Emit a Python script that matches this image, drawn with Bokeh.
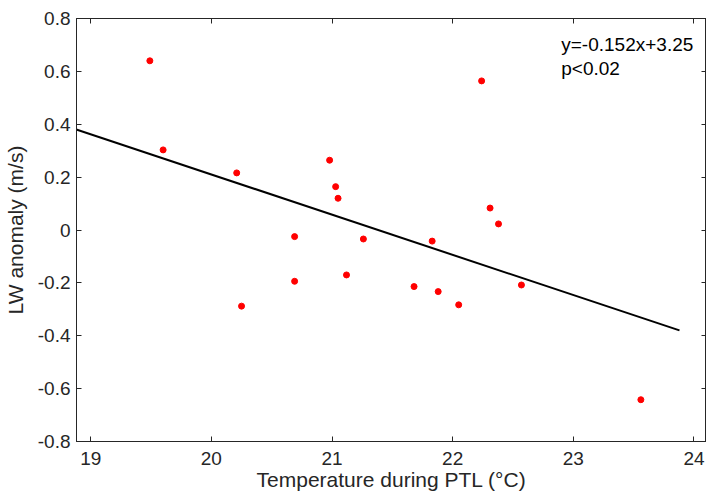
from bokeh.plotting import figure
from bokeh.models import LinearAxis, FixedTicker, Label, Range1d
from bokeh.embed import file_html
from bokeh.resources import INLINE

# ---- data ----
temperature = [19.49, 19.60, 20.21, 20.25, 20.69, 20.69, 20.98, 21.03, 21.05, 21.12,
               21.26, 21.68, 21.83, 21.88, 22.05, 22.24, 22.31, 22.38, 22.57, 23.56]
lw_anomaly = [0.640, 0.303, 0.216, -0.288, -0.025, -0.194, 0.264, 0.164, 0.120, -0.170,
              -0.034, -0.214, -0.042, -0.233, -0.283, 0.564, 0.083, 0.023, -0.208, -0.642]
fit_slope = -0.152
fit_intercept = 3.25
fit_x = [18.88, 23.88]
fit_y = [fit_slope * v + fit_intercept for v in fit_x]

x_ticks = [19, 20, 21, 22, 23, 24]
x_tick_labels = ["19", "20", "21", "22", "23", "24"]
y_ticks = [0.8, 0.6, 0.4, 0.2, 0.0, -0.2, -0.4, -0.6, -0.8]
y_tick_labels = ["0.8", "0.6", "0.4", "0.2", "0", "-0.2", "-0.4", "-0.6", "-0.8"]

annot_lines = ["y=-0.152x+3.25", "p<0.02"]
x_label = "Temperature during PTL (\u00b0C)"
y_label = "LW anomaly (m/s)"

FONT = "Liberation Sans"
AX = "#262626"

p = figure(frame_width=630, frame_height=423,
           x_range=Range1d(18.882, 24.104), y_range=Range1d(-0.8, 0.8),
           output_backend="svg", toolbar_location=None,
           x_axis_location=None, y_axis_location=None,
           min_border_left=76, min_border_top=18, min_border_right=0, min_border_bottom=0)
p.xgrid.visible = False
p.ygrid.visible = False
p.outline_line_color = AX
p.outline_line_width = 1
p.background_fill_color = "white"
p.border_fill_color = "white"


def style_axis(ax, ticks, labels, show_labels):
    ax.ticker = FixedTicker(ticks=ticks)
    ax.major_tick_in = 5
    ax.major_tick_out = 0
    ax.minor_tick_in = 0
    ax.minor_tick_out = 0
    ax.axis_line_color = AX
    ax.major_tick_line_color = AX
    ax.major_label_text_font = FONT
    ax.major_label_text_color = AX
    if show_labels:
        ax.major_label_overrides = {t: l for t, l in zip(ticks, labels)}
        ax.major_label_text_font_size = "19px"
        ax.major_label_standoff = 6
    else:
        ax.major_label_overrides = {t: "" for t in ticks}
        ax.major_label_text_font_size = "1px"
        ax.major_label_standoff = 0


xb = LinearAxis(axis_label=x_label)
style_axis(xb, x_ticks, x_tick_labels, True)
xb.major_label_standoff = 10
xb.axis_label_text_font = FONT
xb.axis_label_text_font_size = "21px"
xb.axis_label_text_font_style = "normal"
xb.axis_label_text_color = AX
xb.axis_label_standoff = 0
p.add_layout(xb, "below")

yl = LinearAxis(axis_label=y_label)
style_axis(yl, y_ticks, y_tick_labels, True)
yl.axis_label_text_font = FONT
yl.axis_label_text_font_size = "21px"
yl.axis_label_text_font_style = "normal"
yl.axis_label_text_color = AX
yl.axis_label_standoff = 8
p.add_layout(yl, "left")

xt = LinearAxis()
style_axis(xt, x_ticks, x_tick_labels, False)
p.add_layout(xt, "above")

yr = LinearAxis()
style_axis(yr, y_ticks, y_tick_labels, False)
p.add_layout(yr, "right")

p.line(fit_x, fit_y, line_color="black", line_width=2)
p.scatter(temperature, lw_anomaly, size=6, fill_color="red", line_color="red")

for i, txt in enumerate(annot_lines):
    p.add_layout(Label(x=22.9, y=0.70 - i * 0.09, text=txt, text_font=FONT,
                       text_font_size="19px", text_color="black",
                       text_baseline="middle", text_align="left"))

open("out.html", "w").write(file_html(p, INLINE))
